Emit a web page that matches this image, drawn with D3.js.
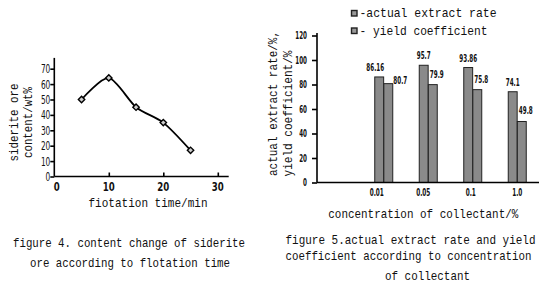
<!DOCTYPE html>
<html>
<head>
<meta charset="utf-8">
<script src="https://cdn.jsdelivr.net/npm/d3@7"></script>
<style>
  body { margin: 0; background: #fff; }
  .lbl { font-family: "Liberation Mono", "DejaVu Sans Mono", monospace; fill: #111; }
  .num { font-family: "Liberation Sans Narrow", "DejaVu Sans Condensed", "Liberation Sans", sans-serif; font-weight: bold; fill: #111; }
  .axis path, .axis line { stroke: #000; stroke-width: 1.6; }
</style>
</head>
<body>
<script>
// figure 4 data
let timeMin = [5, 10, 15, 20, 25];
let sideriteContent = [50, 64, 45, 35, 17];
let timeTicks = [0, 10, 20, 30];
let contentTicks = [0, 10, 20, 30, 40, 50, 60, 70];

// figure 5 data
let concentrations = ["0.01", "0.05", "0.1", "1.0"];
let actualRate = [86.16, 95.7, 93.86, 74.1];
let yieldCoef = [80.7, 79.9, 75.8, 49.8];
let rateTicks = [0, 20, 40, 60, 80, 100, 120];

let svg = d3.select("body").append("svg").attr("width", 541).attr("height", 287);

// helper for squeezed mono text
function label(g, txt, x, y, size, len, anchor) {
  let t = g.append("text").attr("class", "lbl").attr("x", x).attr("y", y)
    .attr("text-anchor", anchor || "middle").style("font-size", size + "px").text(txt);
  if (len) t.attr("textLength", len).attr("lengthAdjust", "spacingAndGlyphs");
  return t;
}

// narrow numbers: width from digit count
function numLen(s, w) {
  s = String(s);
  let dots = s.split(".").length - 1;
  return (s.length - dots) * w + dots * 2.2;
}

//************** figure 4 *****************
let x4 = d3.scaleLinear().domain([0, 32]).range([54.3, 228.7]);
let y4 = d3.scaleLinear().domain([0, 77]).range([176.5, 57.9]);

let g4 = svg.append("g");

g4.append("g").attr("class", "axis").attr("transform", "translate(0," + y4(0) + ")")
  .call(d3.axisBottom(x4).tickValues(timeTicks.slice(1)).tickSize(-4).tickFormat(""))
  .call(a => a.select(".domain").attr("d", "M" + x4(0) + ",0H" + x4(32)));

g4.append("g").attr("class", "axis").attr("transform", "translate(" + x4(0) + ",0)")
  .call(d3.axisLeft(y4).tickValues(contentTicks).tickSize(4).tickFormat(""))
  .call(a => a.select(".domain").attr("d", "M0," + y4(77) + "V" + y4(0)));

g4.selectAll(".ytl").data(contentTicks).enter().append("text").attr("class", "num")
  .attr("x", x4(0) - 4).attr("y", d => y4(d) + 4.5).attr("text-anchor", "end")
  .style("font-size", "12.5px").style("font-weight", "normal")
  .attr("textLength", d => numLen(d, 4.7)).attr("lengthAdjust", "spacingAndGlyphs")
  .text(d => d);

g4.selectAll(".xtl").data(timeTicks).enter().append("text").attr("class", "num")
  .attr("x", d => x4(d) + (d === 0 ? 2.5 : 0)).attr("y", 190.5).attr("text-anchor", "middle")
  .style("font-size", "12.5px")
  .attr("textLength", d => numLen(d, 6)).attr("lengthAdjust", "spacingAndGlyphs")
  .text(d => d);

let pts = timeMin.map((t, i) => [t, sideriteContent[i]]);
let line4 = d3.line().x(d => x4(d[0])).y(d => y4(d[1])).curve(d3.curveCardinal.tension(0.2));
g4.append("path").datum(pts).attr("d", line4).attr("fill", "none")
  .attr("stroke", "#000").attr("stroke-width", 1.8);

g4.selectAll(".mk").data(pts).enter().append("path")
  .attr("transform", d => "translate(" + x4(d[0]) + "," + y4(d[1]) + ")")
  .attr("d", d3.symbol().type(d3.symbolDiamond2).size(26))
  .attr("fill", "#ccc").attr("stroke", "#000").attr("stroke-width", 1.4);

label(g4, "siderite ore", 0, 0, 13, 78).attr("transform", "translate(18,122.5) rotate(-90)");
label(g4, "content/wt%", 0, 0, 13, 71).attr("transform", "translate(32,122.5) rotate(-90)");
label(g4, "fiotation time/min", 148, 207, 13, 119);
label(g4, "figure 4. content change of siderite", 129, 247, 13.5, 232);
label(g4, "ore according to flotation time", 130, 267, 13.5, 200);

//************** figure 5 *****************
let slots = [""].concat(concentrations);
let x5 = d3.scaleBand().domain(slots).range([317, 539.5]);
let sub = d3.scaleBand().domain(["actual", "yield"]).range([-9, 9]).paddingInner(0.02);
let y5 = d3.scaleLinear().domain([0, 120]).range([182.5, 35.5]);

let g5 = svg.append("g");

let groups = g5.selectAll(".grp").data(concentrations).enter().append("g")
  .attr("transform", d => "translate(" + (x5(d) + x5.bandwidth() / 2) + ",0)");

groups.append("rect").attr("x", sub("actual")).attr("width", sub.bandwidth())
  .attr("y", (d, i) => y5(actualRate[i])).attr("height", (d, i) => y5(0) - y5(actualRate[i]))
  .attr("fill", "#8a8a8a").attr("stroke", "#222").attr("stroke-width", 1);

groups.append("rect").attr("x", sub("yield")).attr("width", sub.bandwidth())
  .attr("y", (d, i) => y5(yieldCoef[i])).attr("height", (d, i) => y5(0) - y5(yieldCoef[i]))
  .attr("fill", "#8a8a8a").attr("stroke", "#222").attr("stroke-width", 1);

groups.append("text").attr("class", "num").attr("text-anchor", "middle")
  .attr("x", (d, i) => sub("actual") + sub.bandwidth() / 2 - (i === 0 ? 4 : 0))
  .attr("y", (d, i) => y5(actualRate[i]) - 6).style("font-size", "11px")
  .attr("textLength", (d, i) => numLen(actualRate[i], 3.9)).attr("lengthAdjust", "spacingAndGlyphs")
  .text((d, i) => actualRate[i]);

groups.append("text").attr("class", "num").attr("text-anchor", "middle")
  .attr("x", (d, i) => sub("yield") + sub.bandwidth() / 2 + (i === 0 ? 12 : 4))
  .attr("y", (d, i) => y5(yieldCoef[i]) - (i === 0 ? 0 : 7)).style("font-size", "11px")
  .attr("textLength", (d, i) => numLen(yieldCoef[i], 3.9)).attr("lengthAdjust", "spacingAndGlyphs")
  .text((d, i) => yieldCoef[i]);

g5.append("g").attr("class", "axis").attr("transform", "translate(0," + y5(0) + ")")
  .call(d3.axisBottom(x5).tickSize(0).tickFormat(""))
  .call(a => a.select(".domain").attr("d", "M317,0H539"));

g5.append("g").attr("class", "axis").attr("transform", "translate(317,0)")
  .call(d3.axisLeft(y5).tickValues(rateTicks).tickSize(5).tickFormat(""))
  .call(a => a.select(".domain").attr("d", "M0," + (y5(120) - 2.5) + "V" + y5(0)));

g5.selectAll(".ytl").data(rateTicks).enter().append("text").attr("class", "num")
  .attr("x", 307).attr("y", d => y5(d) + 3.5).attr("text-anchor", "end")
  .style("font-size", "10px")
  .attr("textLength", d => numLen(d, 3.9)).attr("lengthAdjust", "spacingAndGlyphs")
  .text(d => d);

g5.selectAll(".xtl").data(concentrations).enter().append("text").attr("class", "num")
  .attr("x", (d, i) => x5(d) + x5.bandwidth() / 2 - [7, 5, 2, 0][i]).attr("y", 196)
  .attr("text-anchor", "middle").style("font-size", "11px")
  .attr("textLength", d => numLen(d, 4)).attr("lengthAdjust", "spacingAndGlyphs")
  .text(d => d);

// legend
let legendNames = ["-actual extract rate", "- yield coefficient"];
let lg = g5.selectAll(".lg").data(legendNames).enter().append("g")
  .attr("transform", (d, i) => "translate(351.5," + (10.5 + i * 17.5) + ")");
lg.append("rect").attr("width", 5.5).attr("height", 5.5)
  .attr("fill", "#999").attr("stroke", "#222").attr("stroke-width", 1.4);
lg.append("text").attr("class", "lbl").attr("x", 8).attr("y", 6.5)
  .style("font-size", "13px").attr("textLength", (d, i) => i === 0 ? 137 : 128)
  .attr("lengthAdjust", "spacingAndGlyphs").text(d => d);

label(g5, "actual extract rate/%,", 0, 0, 13, 145, "start").attr("transform", "translate(277,176) rotate(-90)");
label(g5, "yield coefficient/%", 0, 0, 13, 126, "start").attr("transform", "translate(292,176.5) rotate(-90)");
label(g5, "concentration of collectant/%", 423.3, 217.5, 13, 190);
label(g5, "figure 5.actual extract rate and yield", 410.5, 243.5, 13.5, 250);
label(g5, "coefficient according to concentration", 408.5, 259.5, 13.5, 246);
label(g5, "of collectant", 427.5, 279.5, 13.5, 85);
</script>
</body>
</html>
